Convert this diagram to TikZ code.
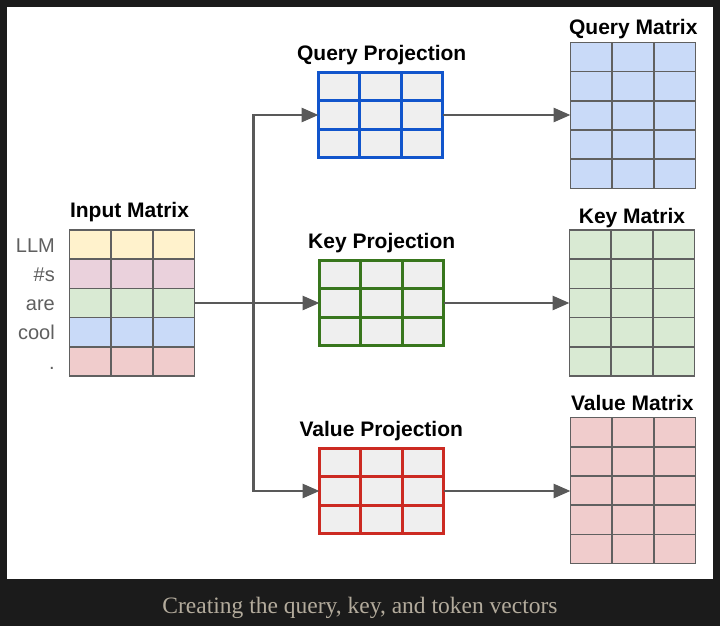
\documentclass[tikz,border=0pt]{standalone}
\usepackage{fontspec}
\setmainfont{Liberation Sans}
\newfontfamily\capfont{Liberation Serif}
\usetikzlibrary{arrows.meta,calc}
\definecolor{bgdark}{HTML}{1B1B1B}
\definecolor{gridgray}{HTML}{606060}
\definecolor{arrgray}{HTML}{595959}
\definecolor{labgray}{HTML}{5F5F5F}
\definecolor{capcol}{HTML}{B3AB9C}
\definecolor{projfill}{HTML}{EFEFEF}
\definecolor{qborder}{HTML}{1155CC}
\definecolor{kborder}{HTML}{38761D}
\definecolor{vborder}{HTML}{CC2A22}
\definecolor{iyel}{HTML}{FFF2CC}
\definecolor{imag}{HTML}{EAD1DC}
\definecolor{igrn}{HTML}{D9EAD3}
\definecolor{iblu}{HTML}{C9DAF8}
\definecolor{ired}{HTML}{F0CCCC}
\newcommand\cellgridlines[3]{%
  \foreach \k in {1,2}{\draw[#2,line width=#3] ($(path picture bounding box.north west)!\k/3!(path picture bounding box.north east)$) -- ($(path picture bounding box.south west)!\k/3!(path picture bounding box.south east)$);}%
  \pgfmathtruncatemacro\rowsm{#1-1}%
  \foreach \k in {1,...,\rowsm}{\draw[#2,line width=#3] ($(path picture bounding box.north west)!\k/#1!(path picture bounding box.south west)$) -- ($(path picture bounding box.north east)!\k/#1!(path picture bounding box.south east)$);}%
}
\newcommand\inputrows{%
  \foreach \c [count=\k from 0] in {iyel,imag,igrn,iblu,ired}{\fill[\c] ($(path picture bounding box.north west)!\k/5!(path picture bounding box.south west)$) rectangle ($(path picture bounding box.north east)!\k/5+0.2!(path picture bounding box.south east)$);}%
}
\tikzset{
  outmat/.style={draw=gridgray, line width=1.6pt, minimum width=125pt, minimum height=146pt, inner sep=0pt, outer sep=0pt},
  projbox/.style={draw=#1, line width=3pt, fill=projfill, minimum width=124pt, minimum height=85pt, inner sep=0pt, outer sep=0pt, path picture={\cellgridlines{3}{#1}{3pt}}},
  ttl/.style={font=\fontsize{21}{24}\selectfont\bfseries, anchor=base, inner sep=0pt},
  lab/.style={font=\fontsize{20}{24}\selectfont, text=labgray, anchor=base east, inner sep=0pt},
  conn/.style={draw=arrgray, line width=2.8pt},
  arr/.style={conn, -{Triangle[length=17pt,width=14pt]}}
}
\begin{document}
\begin{tikzpicture}[x=1pt,y=-1pt]
\useasboundingbox (0,0) rectangle (720,626);
\fill[bgdark] (0,0) rectangle (720,626);
\fill[white] (7,7) rectangle (713,579);

% input matrix
\node[outmat, path picture={\inputrows\cellgridlines{5}{gridgray}{1.6pt}}] (inp) at (132,303) {};
\node[ttl] (tinp) at (129.5,217) {Input Matrix};
\node[lab] (l1) at (55,252.3) {LLM};
\node[lab] (l2) at (55,281.5) {\#s};
\node[lab] (l3) at (55,310.7) {are};
\node[lab] (l4) at (55,339.9) {cool};
\node[lab] (l5) at (55,369.2) {.};

% projections
\node[projbox=qborder] (qp) at (380.5,115) {};
\node[projbox=kborder] (kp) at (381.5,303) {};
\node[projbox=vborder] (vp) at (381.5,491) {};
\node[ttl] (tqp) at (381.7,60.5) {Query Projection};
\node[ttl] (tkp) at (381.7,248.5) {Key Projection};
\node[ttl] (tvp) at (381.3,436) {Value Projection};

% output matrices
\node[outmat, fill=iblu, path picture={\cellgridlines{5}{gridgray}{1.6pt}}] (qm) at (633,115.5) {};
\node[outmat, fill=igrn, path picture={\cellgridlines{5}{gridgray}{1.6pt}}] (km) at (632,303) {};
\node[outmat, fill=ired, path picture={\cellgridlines{5}{gridgray}{1.6pt}}] (vm) at (633,490.5) {};
\node[ttl] (tqm) at (633.3,34.3) {Query Matrix};
\node[ttl] (tkm) at (632,223.5) {Key Matrix};
\node[ttl] (tvm) at (632.3,410.5) {Value Matrix};

% connectors
\coordinate (j) at (253.5,303);
\draw[conn] (inp.east) -- (j);
\draw[arr] (j) -- (kp.west);
\draw[arr] (j) |- (qp.west);
\draw[arr] (j) |- (vp.west);
\draw[arr] (qp.east) -- (qp.east -| qm.west);
\draw[arr] (kp.east) -- (kp.east -| km.west);
\draw[arr] (vp.east) -- (vp.east -| vm.west);

% caption
\node[font=\capfont\fontsize{23.5}{28}\selectfont, text=capcol, anchor=base, inner sep=0pt] (cap) at (360,613) {Creating the query, key, and token vectors};
\end{tikzpicture}
\end{document}
